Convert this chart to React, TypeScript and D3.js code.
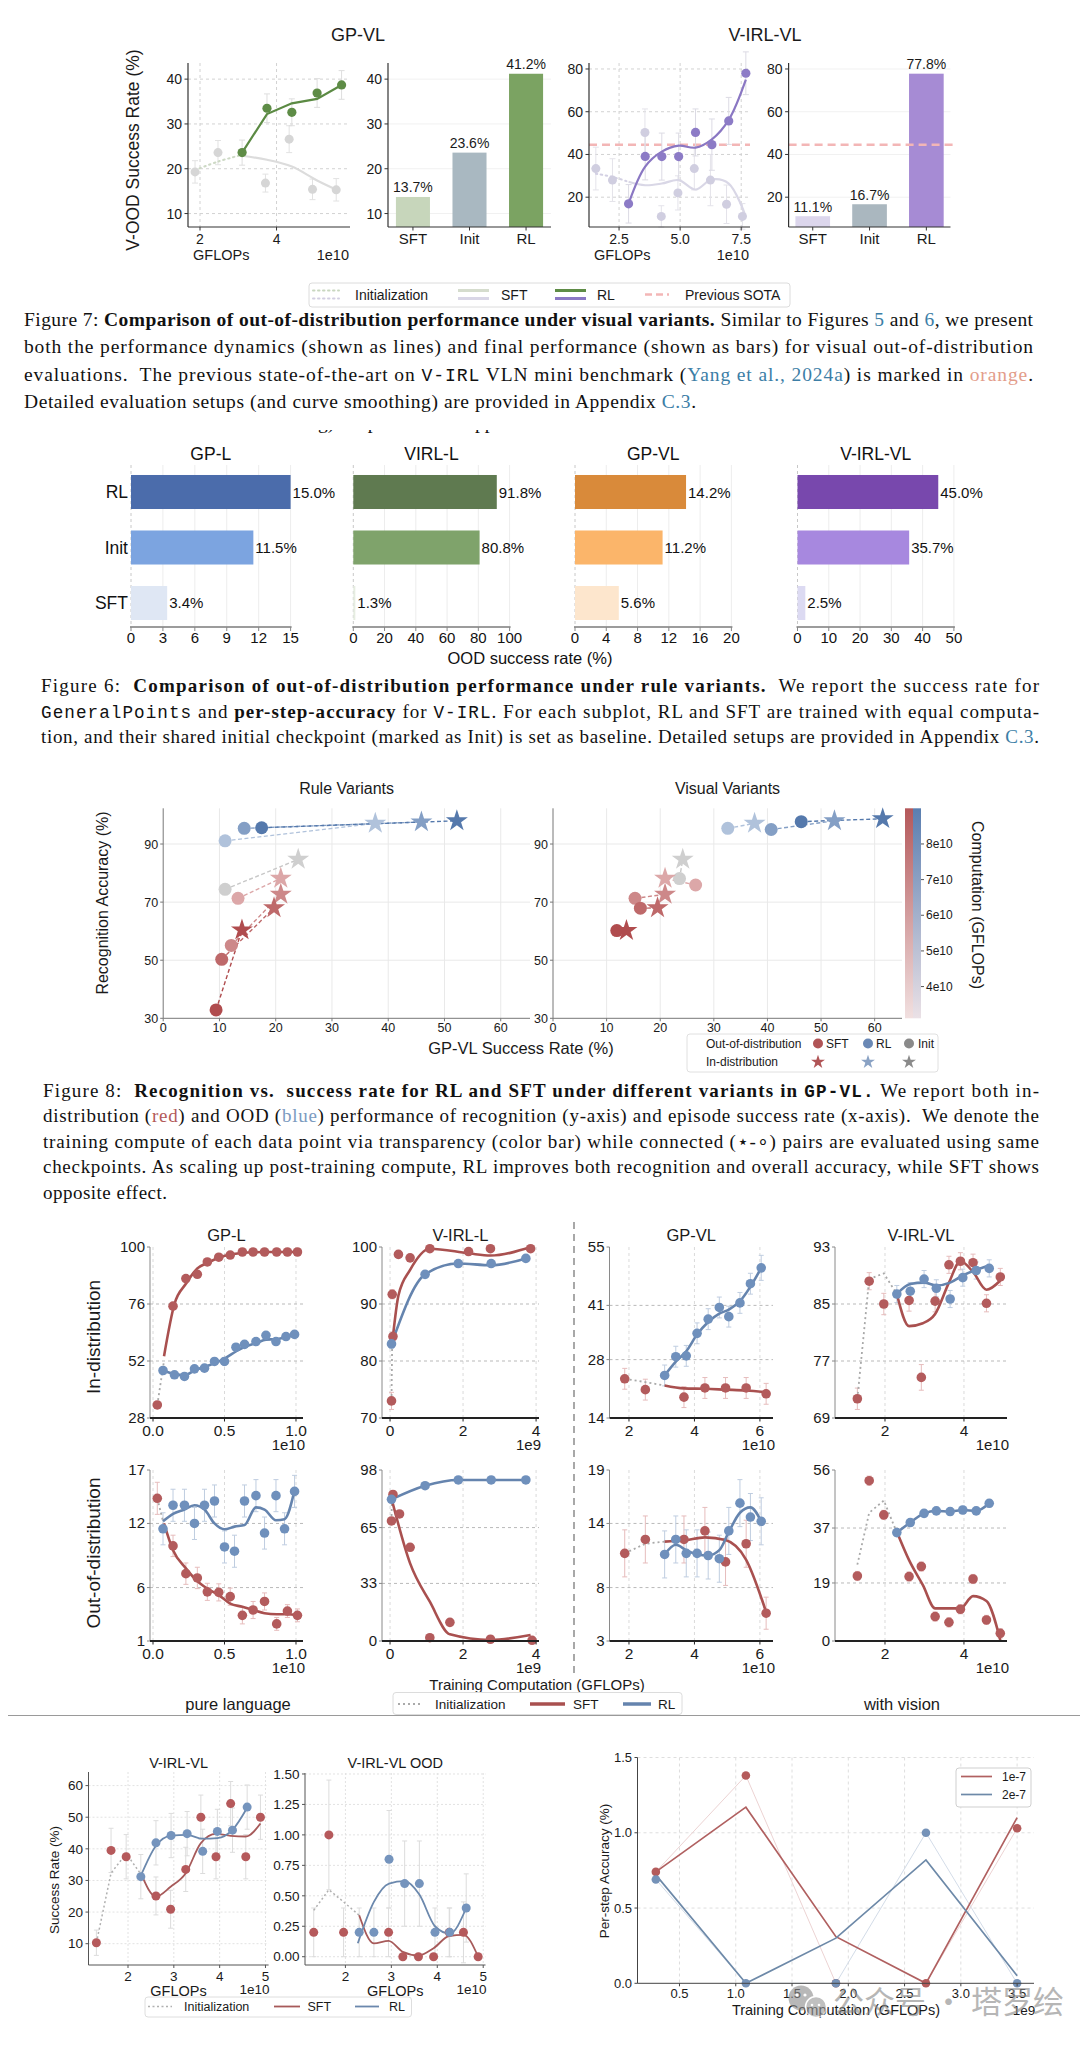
import React from 'react';
import * as d3 from 'd3';

const SANS = "'Liberation Sans', Arial, Helvetica, sans-serif";
const SERIF = "'Liberation Serif', 'Times New Roman', Times, serif";
const MONO = "'Liberation Mono', 'Courier New', monospace";
const CJK = "'Noto Sans CJK SC', 'Noto Sans', sans-serif";

// ---------------- Figure 7: visual OOD (lines + bars) ----------------
const barCats = ['SFT', 'Init', 'RL'];
const gpvlBars = [13.7, 23.6, 41.2];
const virlvlBars = [11.1, 16.7, 77.8];
const prevSota = 44.6;
const f7GpTicksX = [2, 4];
const f7GpTicksY = [10, 20, 30, 40];
const f7VirlTicksX = [2.5, 5.0, 7.5];
const f7VirlTicksY = [20, 40, 60, 80];

// [GFLOPs (1e10), success %, error]
const gpvlRlPts = [[3.1, 23.6, 2.8], [3.75, 33.5, 3.2], [4.4, 32.6, 3.0], [5.06, 36.9, 3.2], [5.7, 38.7, 3.2]];
const gpvlRlLine = [[3.1, 23.6], [3.75, 32.2], [4.4, 34.6], [5.06, 35.6], [5.7, 38.7]];
const gpvlGrayPts = [[1.87, 19.3, 2.5], [2.47, 23.6, 2.7], [3.71, 16.8, 2.0], [4.33, 26.6, 3.0], [4.94, 15.4, 2.3], [5.56, 15.3, 2.5]];
const gpvlSftLine = [[3.1, 22.9], [3.75, 22.0], [4.4, 20.5], [5.06, 17.4], [5.6, 15.2]];
const gpvlInitLine = [[1.87, 19.7], [2.47, 21.6], [3.1, 23.1]];

const virlRlPts = [[2.89, 16.9, 9], [3.57, 39.1, 11], [4.25, 39.0, 11], [4.94, 39.0, 11], [5.63, 50.3, 11], [6.3, 44.6, 12], [6.99, 55.7, 11], [7.69, 78.0, 10]];
const virlRlLine = [[2.89, 17], [3.57, 34.3], [4.25, 41.3], [4.94, 44.1], [5.63, 43.2], [6.3, 47.1], [6.99, 56.2], [7.69, 75]];
const virlGrayPts = [[1.55, 33.4, 10], [2.23, 28, 10], [3.56, 50.3, 11], [4.23, 11, 5], [4.91, 22, 8], [5.58, 33.4, 10], [6.24, 28, 12], [6.9, 16.7, 9], [7.55, 11, 6]];
const virlSftLine = [[2.89, 27.2], [3.57, 25.6], [4.25, 26.4], [4.94, 28], [5.63, 23.6], [6.3, 28.3], [6.99, 26.4], [7.69, 10.8]];
const virlInitLine = [[1.55, 31], [2.23, 29.5], [2.89, 27.2]];

// ---------------- Figure 6: rule OOD bars ----------------
const fig6Titles = ['GP-L', 'VIRL-L', 'GP-VL', 'V-IRL-VL'];
const fig6Cats = ['RL', 'Init', 'SFT'];
const fig6Max = [15, 100, 20, 50];
const fig6Ticks = [[0, 3, 6, 9, 12, 15], [0, 20, 40, 60, 80, 100], [0, 4, 8, 12, 16, 20], [0, 10, 20, 30, 40, 50]];
const fig6GPL = [15.0, 11.5, 3.4];
const fig6VIRLL = [91.8, 80.8, 1.3];
const fig6GPVL = [14.2, 11.2, 5.6];
const fig6VIRLVL = [45.0, 35.7, 2.5];

// ---------------- Figure 8: recognition vs success ----------------
// [GP-VL success %, recognition %, compute (1e10)]
const ruleSftOod = [[13.3, 71.3, 4.6], [12.1, 55.1, 6.0], [10.4, 50.3, 7.4], [9.4, 32.9, 8.7]];
const ruleSftId = [[20.9, 78.2, 4.6], [20.9, 72.7, 6.0], [19.7, 68.0, 7.4], [14.0, 60.4, 8.7]];
const ruleRlOod = [[11.0, 91.1, 4.4], [14.4, 95.4, 6.4], [17.5, 95.6, 8.6]];
const ruleRlId = [[37.7, 97.1, 4.4], [45.9, 97.6, 6.4], [52.2, 98.0, 8.6]];
const ruleInit = [[11.0, 74.4], [24.0, 84.7]];
const visSftOod = [[26.6, 75.9, 4.6], [15.3, 71.3, 6.0], [16.3, 67.9, 7.4], [11.9, 60.2, 8.7]];
const visSftId = [[20.9, 78.2, 4.6], [20.9, 72.7, 6.0], [19.5, 68.0, 7.4], [13.7, 60.2, 8.7]];
const visRlOod = [[32.6, 95.4, 4.4], [40.7, 95.0, 6.4], [46.3, 97.7, 8.6]];
const visRlId = [[37.6, 97.1, 4.4], [52.5, 98.0, 6.4], [61.5, 98.7, 8.6]];
const visInit = [[23.6, 78.1], [24.2, 84.7]];
const f8TicksX = [0, 10, 20, 30, 40, 50, 60];
const f8TicksY = [30, 50, 70, 90];
const cbTicks = [4, 5, 6, 7, 8];

// ---------------- Figure 9: ID / OOD dynamics ----------------
const f9Titles = ['GP-L', 'V-IRL-L', 'GP-VL', 'V-IRL-VL'];
const f9XDom = [[-0.021, 1.049], [-0.22, 4.08], [1.405, 6.4], [0.734, 5.09]];
const f9XTicks = [[0, 0.5, 1.0], [0, 2, 4], [2, 4, 6], [2, 4]];
const f9XExp = ['1e10', '1e9', '1e10', '1e10'];
const f9YTicksId = [[28, 52, 76, 100], [70, 80, 90, 100], [14, 28, 41, 55], [69, 77, 85, 93]];
const f9YTicksOod = [[1, 6, 12, 17], [0, 33, 65, 98], [3, 8, 14, 19], [0, 19, 37, 56]];

const idGplSft = [[0.03, 33.5, 1.5], [0.14, 75.1, 1.2], [0.23, 86.7, 1], [0.31, 88.5, 1.2], [0.38, 93.7, 0.8], [0.46, 95.7, 0.8], [0.54, 96.6, 0.6], [0.625, 97.9, 0.5], [0.70, 97.9, 0.5], [0.78, 97.9, 0.5], [0.865, 97.9, 0.5], [0.94, 97.9, 0.5], [1.01, 97.9, 0.5]];
const idGplSftLine = [[0.077, 54], [0.15, 76], [0.23, 84.5], [0.31, 91], [0.38, 93.3], [0.46, 95.5], [0.54, 96.8], [0.625, 97.5], [0.70, 97.8], [0.78, 97.9], [0.865, 97.9], [0.94, 97.9], [1.01, 98]];
const idGplRl = [[0.07, 48, 1.2], [0.15, 46.2, 1.2], [0.22, 45.5, 1.2], [0.29, 48.7, 1.2], [0.36, 49, 1.2], [0.43, 51.8, 1.3], [0.5, 51.8, 1.5], [0.58, 57.8, 1.3], [0.64, 59, 1.3], [0.72, 60.2, 1.3], [0.79, 62.8, 1.3], [0.86, 60.2, 1.3], [0.93, 62.3, 1.3], [0.99, 63.2, 1.3]];
const idGplRlLine = [[0.07, 48], [0.15, 46.5], [0.22, 46], [0.29, 48], [0.36, 49.5], [0.43, 51], [0.5, 53], [0.58, 56], [0.64, 58], [0.72, 59.5], [0.79, 61], [0.86, 61.2], [0.93, 62], [0.99, 63]];
const idGplInit = [[0.03, 33.5], [0.077, 52]];

const idVirllSft = [[0.04, 73.0, 1.5], [0.06, 91.7, 0.8], [0.08, 84.3, 0.8], [0.23, 98.7, 0.4], [0.55, 98.1, 0.4], [1.09, 99.7, 0.3], [2.15, 99.2, 0.3], [2.75, 99.7, 0.3], [3.85, 99.7, 0.3]];
const idVirllSftLine = [[0.08, 84.3], [0.23, 91.5], [0.55, 96], [1.09, 99.7], [2.15, 98.9], [2.75, 98.5], [3.85, 100]];
const idVirllRl = [[0.04, 83.0, 0.8], [0.96, 95.2, 0.6], [1.87, 97.1, 0.5], [2.77, 97.1, 0.5], [3.72, 98.0, 0.5]];
const idVirllRlLine = [[0.04, 83], [0.96, 95.2], [1.87, 97.1], [2.77, 96.8], [3.72, 98]];
const idVirllInit = [[0.04, 73], [0.06, 84]];

const idGpvlSft = [[1.87, 23.4, 2.5], [2.5, 20.8, 2.5], [3.68, 19.0, 2.5], [4.32, 21.2, 2.5], [4.95, 21.2, 2.5], [5.58, 21.2, 2.5], [6.19, 19.8, 2.5]];
const idGpvlSftLine = [[3.09, 21.8], [3.68, 21.1], [4.32, 21.0], [4.95, 20.8], [5.58, 20.6], [6.19, 20.2]];
const idGpvlRl = [[3.09, 24.2, 2.5], [3.43, 28.7, 2.5], [3.75, 28.9, 2.5], [4.08, 34.3, 2.5], [4.42, 37.7, 2.5], [4.76, 40.5, 2.5], [5.05, 38.3, 2.5], [5.39, 41.6, 2.5], [5.71, 46.2, 2.5], [6.04, 50, 3]];
const idGpvlRlLine = [[3.09, 24.2], [3.43, 27.5], [3.75, 30], [4.08, 34], [4.42, 37], [4.76, 39], [5.05, 40], [5.39, 42], [5.71, 45.5], [6.04, 50]];
const idGpvlInit = [[1.87, 23.4], [2.5, 22.6], [3.09, 21.8]];

const idVirlvlSft = [[1.30, 71.7, 1.5], [1.6, 88.2, 1.2], [1.97, 85.0, 1.5], [2.61, 85.5, 1.5], [2.92, 74.7, 1.8], [3.27, 85.4, 1.5], [3.62, 90.5, 1.2], [3.91, 91.0, 1.2], [4.23, 90.8, 1.2], [4.57, 85.1, 1.2], [4.92, 88.8, 1.2]];
const idVirlvlSftLine = [[2.3, 86.4], [2.61, 81.9], [2.96, 82.3], [3.27, 83.6], [3.62, 88], [3.91, 91], [4.23, 89.5], [4.57, 87], [4.92, 88.3]];
const idVirlvlRl = [[2.3, 86.4, 1.2], [2.64, 86.8, 1.2], [2.99, 88.5, 1.2], [3.3, 87.2, 1.2], [3.65, 85.7, 1.2], [3.97, 88.7, 1.2], [4.31, 89.7, 1.2], [4.64, 90.0, 1.2]];
const idVirlvlRlLine = [[2.3, 86.4], [2.64, 87.8], [2.99, 88], [3.3, 87.6], [3.65, 88], [3.97, 89], [4.31, 89.8], [4.64, 90.4]];
const idVirlvlInit = [[1.30, 71.7], [1.6, 88.5], [1.97, 89.3], [2.3, 86.4]];

const oodGplSft = [[0.03, 14.35, 1.5], [0.14, 9.9, 1], [0.23, 7.3, 1], [0.31, 6.9, 1], [0.38, 5.6, 0.8], [0.46, 5.55, 0.8], [0.54, 5.15, 0.8], [0.625, 3.4, 0.8], [0.70, 3.9, 0.8], [0.78, 4.7, 0.8], [0.865, 2.6, 0.6], [0.94, 3.8, 0.6], [1.01, 3.4, 0.6]];
const oodGplSftLine = [[0.077, 12], [0.14, 9.5], [0.23, 7.8], [0.31, 6.6], [0.38, 5.9], [0.46, 5.3], [0.54, 4.5], [0.625, 4.2], [0.70, 3.9], [0.78, 3.6], [0.865, 3.5], [0.94, 3.5], [1.01, 3.4]];
const oodGplRl = [[0.07, 11.5, 1.5], [0.14, 13.7, 1.5], [0.22, 13.7, 1.5], [0.29, 12.0, 1.5], [0.36, 13.7, 1.5], [0.43, 14.1, 1.5], [0.5, 9.8, 1.5], [0.57, 9.4, 1.5], [0.64, 14.1, 1.5], [0.72, 14.6, 1.5], [0.78, 11.1, 1.5], [0.86, 14.6, 1.5], [0.92, 11.5, 1.5], [0.99, 15.0, 1.5]];
const oodGplRlLine = [[0.07, 12.2], [0.14, 12.9], [0.22, 13.3], [0.29, 13.7], [0.36, 13.3], [0.43, 12.0], [0.5, 11.45], [0.57, 11.7], [0.64, 11.85], [0.72, 13.5], [0.78, 13.3], [0.86, 12.3], [0.92, 12.4], [0.99, 15.1]];
const oodGplInit = [[0.03, 14.35], [0.07, 12.2]];

const oodVirllSft = [[0.04, 68.8, 2], [0.08, 84.0, 2], [0.26, 72.8, 2], [0.55, 53.7, 2], [1.09, 1.9, 1], [1.64, 10.7, 1], [2.75, 1.0, 0.5], [3.89, 0.4, 0.5]];
const oodVirllSftLine = [[0.04, 81.7], [0.55, 44.5], [1.09, 22.5], [1.64, 3.8], [2.75, 0.6], [3.85, 3.4]];
const oodVirllRl = [[0.04, 81.2, 1], [0.96, 89.0, 1], [1.87, 92.3, 0.8], [2.77, 92.3, 0.8], [3.72, 92.3, 0.8]];
const oodVirllRlLine = [[0.04, 81.2], [0.96, 89.0], [1.87, 92.3], [2.77, 92.3], [3.72, 92.3]];
const oodVirllInit = [[0.04, 68.8], [0.05, 81]];

const oodGpvlSft = [[1.87, 11.2, 2.2], [2.5, 12.5, 2.2], [3.68, 12.5, 2.2], [4.32, 13.3, 2.2], [4.95, 10.4, 2.2], [5.58, 12.1, 2.2], [6.19, 5.6, 1.5]];
const oodGpvlSftLine = [[3.09, 12.3], [3.68, 12.4], [4.32, 12.7], [4.95, 12.45], [5.58, 10.6], [6.19, 5.7]];
const oodGpvlRl = [[3.09, 11.1, 2.2], [3.43, 12.5, 2.2], [3.75, 11.2, 2.2], [4.08, 11.2, 2.2], [4.42, 11.0, 2.2], [4.76, 10.7, 2.2], [5.05, 13.3, 2.2], [5.39, 15.9, 2.2], [5.71, 14.6, 2.2], [6.04, 14.2, 2.2]];
const oodGpvlRlLine = [[3.09, 11.1], [3.43, 12.0], [3.75, 11.5], [4.08, 11.1], [4.42, 11.0], [4.76, 11.5], [5.05, 13.2], [5.39, 15.0], [5.71, 15.5], [6.04, 14.2]];
const oodGpvlInit = [[1.87, 11.2], [2.5, 12.1], [3.09, 12.3]];

const oodVirlvlSft = [[1.30, 21.3, 1.5], [1.6, 52.5, 1.5], [1.97, 41.3, 1.5], [2.61, 21.1, 1.5], [2.92, 24.4, 1.5], [3.27, 8.0, 1.5], [3.62, 6.1, 1.5], [3.91, 10.4, 1.5], [4.23, 20.3, 1.5], [4.57, 6.9, 1.5], [4.92, 2.5, 1.5]];
const oodVirlvlSftLine = [[2.3, 35.8], [2.61, 26.5], [2.96, 18.3], [3.27, 10.7], [3.62, 10.7], [3.91, 10.7], [4.23, 14.7], [4.57, 13.1], [4.92, 0.3]];
const oodVirlvlRl = [[2.3, 35.5, 1.2], [2.64, 38.8, 1.2], [2.99, 41.8, 1.2], [3.3, 42.6, 1.2], [3.65, 42.4, 1.2], [3.97, 42.9, 1.2], [4.31, 42.6, 1.2], [4.64, 45.1, 1.2]];
const oodVirlvlRlLine = [[2.3, 35.5], [2.64, 38.8], [2.99, 41.8], [3.3, 42.6], [3.65, 42.4], [3.97, 42.9], [4.31, 42.6], [4.64, 45.1]];
const oodVirlvlInit = [[1.30, 25], [1.6, 42], [1.97, 46], [2.3, 35.5]];

// ---------------- bottom row ----------------
const vlSft = [[1.31, 10.3, 4], [1.63, 39.5, 7], [1.96, 37.5, 7], [2.61, 25.1, 6], [2.93, 20.9, 6], [3.26, 33.5, 7], [3.59, 50, 7], [3.92, 37.5, 7], [4.24, 54.3, 7], [4.57, 37.5, 7], [4.89, 50, 7]];
const vlSftLine = [[2.28, 32.3], [2.61, 24.9], [2.93, 28], [3.26, 32.3], [3.59, 41.8], [3.92, 44.7], [4.24, 44.1], [4.57, 43.9], [4.89, 48]];
const vlRl = [[2.28, 31.2, 7], [2.61, 41.9, 7], [2.94, 44.2, 7], [3.29, 44.8, 7], [3.63, 39.2, 7], [3.95, 45.5, 7], [4.28, 45.9, 7], [4.6, 53.2, 7]];
const vlRlLine = [[2.28, 31.5], [2.61, 41], [2.94, 44.2], [3.29, 44.4], [3.63, 43.2], [3.95, 43.4], [4.28, 46], [4.6, 53]];
const vlInit = [[1.31, 10.3], [1.63, 32.3], [1.96, 38.5], [2.28, 32]];

const vlOodSft = [[1.31, 0.2, 0.2], [1.64, 1.0, 0.45], [1.96, 0.2, 0.2], [2.94, 0.2, 0.2], [3.25, 0, 0], [3.59, 0, 0], [3.92, 0, 0], [4.26, 0.2, 0.2], [4.57, 0.2, 0.25], [4.89, 0, 0]];
const vlOodSftLine = [[2.3, 0.34], [2.62, 0.11], [2.94, 0.13], [3.25, 0.04], [3.59, 0.01], [3.92, 0.07], [4.26, 0.17], [4.57, 0.18], [4.89, 0.0]];
const vlOodRl = [[2.3, 0.2, 0.2], [2.62, 0.2, 0.2], [2.95, 0.8, 0.4], [3.29, 0.6, 0.35], [3.61, 0.6, 0.35], [3.95, 0.2, 0.2], [4.27, 0.2, 0.2], [4.63, 0.4, 0.28]];
const vlOodRlLine = [[2.27, 0.11], [2.62, 0.45], [2.95, 0.6], [3.29, 0.62], [3.61, 0.51], [3.95, 0.25], [4.27, 0.19], [4.63, 0.4]];
const vlOodInit = [[1.31, 0.38], [1.64, 0.55], [1.96, 0.45], [2.3, 0.34]];

// per-step accuracy, GFLOPs in 1e9
const lr1Pts = [[0.29, 0.74], [1.09, 1.38], [1.89, 0.0], [2.69, 0.0], [3.5, 1.03]];
const lr1Line = [[0.29, 0.74], [1.09, 1.17], [1.89, 0.31], [2.69, 0.0], [3.5, 1.1]];
const lr2Pts = [[0.29, 0.69], [1.09, 0.0], [1.89, 0.0], [2.69, 1.0], [3.5, 0.0]];
const lr2Line = [[0.29, 0.72], [1.09, 0.0], [1.89, 0.3], [2.69, 0.82], [3.5, 0.05]];

// ---------------- captions ----------------
const cap7 = [
  [['Figure 7: ', 'n'], ['Comparison of out-of-distribution performance under visual variants.', 'b'], [' Similar to Figures ', 'n'], ['5', 'l'], [' and ', 'n'], ['6', 'l'], [', we present', 'n']],
  [['both the performance dynamics (shown as lines) and final performance (shown as bars) for visual out-of-distribution', 'n']],
  [['evaluations.  The previous state-of-the-art on ', 'n'], ['V-IRL', 'm'], [' VLN mini benchmark (', 'n'], ['Yang et al., 2024a', 'l'], [') is marked in ', 'n'], ['orange', 'o'], ['.', 'n']],
  [['Detailed evaluation setups (and curve smoothing) are provided in Appendix ', 'n'], ['C.3', 'l'], ['.', 'n']],
];
const cap6 = [
  [['Figure 6:  ', 'n'], ['Comparison of out-of-distribution performance under rule variants.', 'b'], ['  We report the success rate for', 'n']],
  [['GeneralPoints', 'm'], [' and ', 'n'], ['per-step-accuracy', 'b'], [' for ', 'n'], ['V-IRL', 'm'], ['. For each subplot, RL and SFT are trained with equal computa-', 'n']],
  [['tion, and their shared initial checkpoint (marked as Init) is set as baseline. Detailed setups are provided in Appendix ', 'n'], ['C.3', 'l'], ['.', 'n']],
];
const cap8 = [
  [['Figure 8:  ', 'n'], ['Recognition vs.  success rate for RL and SFT under different variants in ', 'b'], ['GP-VL.', 'bm'], [' We report both in-', 'n']],
  [['distribution (', 'n'], ['red', 'r'], [') and OOD (', 'n'], ['blue', 'u'], [') performance of recognition (y-axis) and episode success rate (x-axis).  We denote the', 'n']],
  [['training compute of each data point via transparency (color bar) while connected (\u22c6-\u2218) pairs are evaluated using same', 'n']],
  [['checkpoints. As scaling up post-training compute, RL improves both recognition and overall accuracy, while SFT shows', 'n']],
  [['opposite effect.', 'n']],
];
const cutLine = 'Detailed evaluation setups (and curve smoothing) are provided in Appendix C.3.';

// ---------------- helpers ----------------
const lin = (d: number[], r: number[]) => d3.scaleLinear().domain(d).range(r);
const pathOf = (pts: number[][], x: any, y: any, curve: any = d3.curveLinear) =>
  d3.line<number[]>().x(p => x(p[0])).y(p => y(p[1])).curve(curve)(pts) || '';

function errBars(pts: number[][], x: any, y: any, color: string, cap = 3) {
  return pts.filter(p => p[2] > 0).map((p, i) => {
    const cx = x(p[0]);
    const a = y(p[1] - p[2]);
    const b = y(p[1] + p[2]);
    return (
      <g key={'e' + i} stroke={color} strokeWidth={1}>
        <line x1={cx} x2={cx} y1={a} y2={b} />
        <line x1={cx - cap} x2={cx + cap} y1={a} y2={a} />
        <line x1={cx - cap} x2={cx + cap} y1={b} y2={b} />
      </g>
    );
  });
}
function dots(pts: number[][], x: any, y: any, r: number, fill: string) {
  return pts.map((p, i) => <circle key={'d' + i} cx={x(p[0])} cy={y(p[1])} r={r} fill={fill} />);
}

function Caption({ lines, x, y0, dy, fs, widths }: any) {
  const st = (s: string) => {
    if (s === 'b') return { fontWeight: 'bold' };
    if (s === 'm') return { fontFamily: MONO, fontSize: fs * 0.93 };
    if (s === 'bm') return { fontFamily: MONO, fontSize: fs * 0.93, fontWeight: 'bold' };
    if (s === 'l') return { fill: '#3c7ea6' };
    if (s === 'o') return { fill: '#e39d8b' };
    if (s === 'r') return { fill: '#b35a5a' };
    if (s === 'u') return { fill: '#7c9bbf' };
    return {};
  };
  return (
    <g fontFamily={SERIF} fontSize={fs} fill="#111">
      {lines.map((segs: any[], i: number) => (
        <text key={i} x={x} y={y0 + i * dy} textLength={widths[i]} lengthAdjust="spacing" style={{ whiteSpace: 'pre' }}>
          {segs.map(([t, s]: any, j: number) => (
            <tspan key={j} {...(st(s) as any)}>{t}</tspan>
          ))}
        </text>
      ))}
    </g>
  );
}

// ---------------- Figure 7 ----------------
function Fig7() {
  const top = 63, bot = 227;
  const xA = lin([1.686, 5.92], [188, 350]);
  const yA = lin([7.0, 43.6], [bot, top]);
  const xB = d3.scaleBand<string>().domain(barCats).range([388, 551]).paddingInner(0.398).paddingOuter(0.14);
  const xC = lin([1.27, 7.86], [589, 750]);
  const yC = lin([6.05, 82.8], [bot, top]);
  const xD = d3.scaleBand<string>().domain(barCats).range([788.6, 950.5]).paddingInner(0.39).paddingOuter(0.12);

  const yAxis = (x0: number, y: any, ticks: number[]) => (
    <g>
      {ticks.map(t => (
        <g key={t}>
          <line x1={x0 - 3.5} x2={x0} y1={y(t)} y2={y(t)} stroke="#333" />
          <text x={x0 - 6} y={y(t) + 5} textAnchor="end">{t}</text>
        </g>
      ))}
      <line x1={x0} x2={x0} y1={top} y2={bot} stroke="#333" strokeWidth={1.2} />
    </g>
  );
  const lineGrid = (x: any, y: any, xt: number[], yt: number[], x0: number, x1: number) => (
    <g stroke="#d2d2d2" strokeDasharray="3,3" strokeWidth={1}>
      {xt.map(t => <line key={'x' + t} x1={x(t)} x2={x(t)} y1={top} y2={bot} />)}
      {yt.map(t => <line key={'y' + t} x1={x0} x2={x1} y1={y(t)} y2={y(t)} />)}
    </g>
  );
  const xAxis = (x: any, ticks: number[], fmt: (n: number) => string, x0: number, x1: number) => (
    <g>
      <line x1={x0} x2={x1} y1={bot} y2={bot} stroke="#333" strokeWidth={1.2} />
      {ticks.map(t => (
        <g key={t}>
          <line x1={x(t)} x2={x(t)} y1={bot} y2={bot + 3.5} stroke="#333" />
          <text x={x(t)} y={244} textAnchor="middle">{fmt(t)}</text>
        </g>
      ))}
      <text x={x0 + 5} y={260} fontSize={14.5}>GFLOPs</text>
      <text x={x1 - 1} y={260} textAnchor="end" fontSize={14.5}>1e10</text>
    </g>
  );
  const bars = (xb: any, y: any, vals: number[], colors: string[], x0: number, x1: number, yt: number[]) => (
    <g>
      {yt.map(t => <line key={'g' + t} x1={x0} x2={x1} y1={y(t)} y2={y(t)} stroke="#f1f1f1" />)}
      {vals.map((v, i) => {
        const cx = xb(barCats[i]) + xb.bandwidth() / 2;
        return (
          <g key={i}>
            <rect x={xb(barCats[i])} y={y(v)} width={xb.bandwidth()} height={bot - y(v)} fill={colors[i]} />
            <text x={cx} y={y(v) - 4.5} textAnchor="middle">{v.toFixed(1)}%</text>
            <line x1={cx} x2={cx} y1={bot} y2={bot + 3.5} stroke="#333" />
            <text x={cx} y={244} textAnchor="middle" fontSize={15}>{barCats[i]}</text>
          </g>
        );
      })}
      <line x1={x0} x2={x1} y1={bot} y2={bot} stroke="#333" strokeWidth={1.2} />
    </g>
  );

  return (
    <g fontFamily={SANS} fontSize={14} fill="#1a1a1a">
      <text x={358} y={41} textAnchor="middle" fontSize={18}>GP-VL</text>
      <text x={765} y={41} textAnchor="middle" fontSize={18}>V-IRL-VL</text>
      <text transform="translate(139,150) rotate(-90)" textAnchor="middle" fontSize={17.5}>V-OOD Success Rate (%)</text>

      {/* GP-VL dynamics */}
      {lineGrid(xA, yA, f7GpTicksX, f7GpTicksY, 188, 350)}
      {errBars(gpvlGrayPts, xA, yA, '#e2e2e2')}
      {errBars(gpvlRlPts, xA, yA, '#dedede')}
      <path d={pathOf(gpvlInitLine, xA, yA, d3.curveCatmullRom)} fill="none" stroke="#cdd9c5" strokeWidth={2} strokeDasharray="1.5,3.5" strokeLinecap="round" />
      <path d={pathOf(gpvlSftLine, xA, yA, d3.curveCatmullRom)} fill="none" stroke="#dcdcdc" strokeWidth={2.2} />
      {dots(gpvlGrayPts, xA, yA, 4.5, '#d6d6d6')}
      <path d={pathOf(gpvlRlLine, xA, yA)} fill="none" stroke="#5b8a43" strokeWidth={2.2} />
      {dots(gpvlRlPts, xA, yA, 4.6, '#5e8c46')}
      {yAxis(188, yA, f7GpTicksY)}
      {xAxis(xA, f7GpTicksX, d3.format('d'), 188, 350)}

      {/* GP-VL bars */}
      {bars(xB, yA, gpvlBars, ['#c7d6bb', '#a9b8c1', '#7ba362'], 388, 551, f7GpTicksY)}
      {yAxis(388, yA, f7GpTicksY)}

      {/* V-IRL-VL dynamics */}
      {lineGrid(xC, yC, f7VirlTicksX, f7VirlTicksY, 589, 750)}
      <line x1={589} x2={750} y1={yC(prevSota)} y2={yC(prevSota)} stroke="#f3b6b6" strokeWidth={2.5} strokeDasharray="8,5" />
      {errBars(virlGrayPts, xC, yC, '#e4e3ea')}
      {errBars(virlRlPts, xC, yC, '#dcdbe4')}
      <path d={pathOf(virlInitLine, xC, yC, d3.curveCatmullRom)} fill="none" stroke="#d3d0e3" strokeWidth={2} strokeDasharray="1.5,3.5" strokeLinecap="round" />
      <path d={pathOf(virlSftLine, xC, yC, d3.curveCatmullRom)} fill="none" stroke="#d9d7e6" strokeWidth={2.2} />
      {dots(virlGrayPts, xC, yC, 4.5, '#d0cee0')}
      <path d={pathOf(virlRlLine, xC, yC, d3.curveCatmullRom)} fill="none" stroke="#8a77c3" strokeWidth={2.2} />
      {dots(virlRlPts, xC, yC, 4.6, '#8c7bc6')}
      {yAxis(589, yC, f7VirlTicksY)}
      {xAxis(xC, f7VirlTicksX, d3.format('.1f'), 589, 750)}

      {/* V-IRL-VL bars */}
      {bars(xD, yC, virlvlBars, ['#dcd6ec', '#aab7bf', '#a68bd4'], 788.6, 950.5, f7VirlTicksY)}
      <line x1={788.6} x2={955} y1={yC(prevSota)} y2={yC(prevSota)} stroke="#f3b6b6" strokeWidth={2.5} strokeDasharray="8,5" />
      {yAxis(788.6, yC, f7VirlTicksY)}

      {/* legend */}
      <rect x={309} y={283} width={481} height={24} rx={3} fill="#fff" stroke="#dcdcdc" />
      <line x1={313} x2={339} y1={290.5} y2={290.5} stroke="#c9d7c0" strokeWidth={2} strokeDasharray="1.5,3.5" strokeLinecap="round" />
      <line x1={313} x2={339} y1={298.5} y2={298.5} stroke="#d3cfe2" strokeWidth={2} strokeDasharray="1.5,3.5" strokeLinecap="round" />
      <text x={355} y={300}>Initialization</text>
      <line x1={458} x2={489} y1={290.5} y2={290.5} stroke="#d5dccd" strokeWidth={3} />
      <line x1={458} x2={489} y1={298.5} y2={298.5} stroke="#d9d6e6" strokeWidth={3} />
      <text x={501} y={300}>SFT</text>
      <line x1={555} x2={586} y1={290.5} y2={290.5} stroke="#5e8c46" strokeWidth={3} />
      <line x1={555} x2={586} y1={298.5} y2={298.5} stroke="#8b78c4" strokeWidth={3} />
      <text x={597} y={300}>RL</text>
      <line x1={645} x2={669} y1={294.5} y2={294.5} stroke="#f3b6b6" strokeWidth={2.5} strokeDasharray="7,4" />
      <text x={685} y={300}>Previous SOTA</text>
    </g>
  );
}

// ---------------- Figure 6 ----------------
function Fig6() {
  const lefts = [131, 353.3, 575, 797.5];
  const widths = [159.6, 156.3, 156.4, 156.4];
  const vals = [fig6GPL, fig6VIRLL, fig6GPVL, fig6VIRLVL];
  const colors = [
    ['#4b6cab', '#7ca4e0', '#dfe7f4'],
    ['#5f7a50', '#7fa36b', '#e6ede1'],
    ['#d98a3a', '#fbb56a', '#fde6cd'],
    ['#7848ad', '#a788df', '#dcdaf2'],
  ];
  const yb = d3.scaleBand<string>().domain(fig6Cats).range([465, 630]).paddingInner(0.387).paddingOuter(0.18);
  return (
    <g fontFamily={SANS} fill="#111">
      <defs>
        <clipPath id="cutClip"><rect x={185} y={430} width={380} height={7} /></clipPath>
      </defs>
      <text x={-53} y={428.5} fontFamily={SERIF} fontSize={19.5} clipPath="url(#cutClip)">{cutLine}</text>
      {fig6Titles.map((t, i) => {
        const x = lin([0, fig6Max[i]], [lefts[i], lefts[i] + widths[i]]);
        return (
          <g key={t}>
            <text x={lefts[i] + widths[i] / 2} y={460} textAnchor="middle" fontSize={17.5}>{t}</text>
            {fig6Ticks[i].slice(1).map(v => <line key={'g' + v} x1={x(v)} x2={x(v)} y1={465} y2={627} stroke="#ededed" />)}
            <line x1={x(0)} x2={x(0)} y1={465} y2={627} stroke="#c8c8c8" strokeDasharray="3,3" />
            {vals[i].map((v, j) => (
              <g key={j}>
                <rect x={x(0)} y={yb(fig6Cats[j])} width={x(v) - x(0)} height={yb.bandwidth()} fill={colors[i][j]} />
                <text x={x(v) + 2} y={(yb(fig6Cats[j]) as number) + yb.bandwidth() / 2 + 5.5} fontSize={15}>{v.toFixed(1)}%</text>
              </g>
            ))}
            <line x1={x(0) - 1} x2={x(fig6Max[i]) + 1} y1={627} y2={627} stroke="#9c9c9c" strokeWidth={2} />
            {fig6Ticks[i].map(v => (
              <g key={'t' + v}>
                <line x1={x(v)} x2={x(v)} y1={627} y2={631} stroke="#888" />
                <text x={x(v)} y={643} textAnchor="middle" fontSize={15}>{v}</text>
              </g>
            ))}
          </g>
        );
      })}
      {fig6Cats.map(c => (
        <text key={c} x={128} y={(yb(c) as number) + yb.bandwidth() / 2 + 6} textAnchor="end" fontSize={17.5}>{c}</text>
      ))}
      <text x={530} y={664} textAnchor="middle" fontSize={16.5}>OOD success rate (%)</text>
    </g>
  );
}

// ---------------- Figure 8 ----------------
function Fig8() {
  const top = 808.3, bot = 1018.3;
  const y = lin([30, 102.3], [bot, top]);
  const red = (c: number) => d3.interpolateRgb('#ecc9c9', '#ad4547')((c - 3.1) / 5.9);
  const blue = (c: number) => d3.interpolateRgb('#ccd8ea', '#4c72a8')((c - 3.1) / 5.9);
  const star = d3.symbol().type(d3.symbolStar).size(150)() || '';
  const starS = d3.symbol().type(d3.symbolStar).size(60)() || '';
  const panels = [
    { title: 'Rule Variants', l: 163.2, r: 530, x: lin([0, 65.2], [163.2, 530]), so: ruleSftOod, si: ruleSftId, ro: ruleRlOod, ri: ruleRlId, init: ruleInit },
    { title: 'Visual Variants', l: 553, r: 902, x: lin([0, 65.1], [553, 902]), so: visSftOod, si: visSftId, ro: visRlOod, ri: visRlId, init: visInit },
  ];
  const cb = lin([3.11, 9.0], [bot, top]);
  return (
    <g fontFamily={SANS} fill="#1a1a1a">
      <defs>
        <linearGradient id="cbR" x1="0" y1="0" x2="0" y2="1">
          <stop offset="0" stopColor="#b4585a" />
          <stop offset="1" stopColor="#f1e0e0" />
        </linearGradient>
        <linearGradient id="cbB" x1="0" y1="0" x2="0" y2="1">
          <stop offset="0" stopColor="#5a7eb0" />
          <stop offset="1" stopColor="#ebe1e6" />
        </linearGradient>
      </defs>
      {panels.map(p => (
        <g key={p.title}>
          <text x={(p.l + p.r) / 2} y={794} textAnchor="middle" fontSize={16}>{p.title}</text>
          <g stroke="#e9e9e9" strokeWidth={1}>
            {f8TicksX.slice(1).map(t => <line key={'x' + t} x1={p.x(t)} x2={p.x(t)} y1={top} y2={bot} />)}
            {f8TicksY.slice(1).map(t => <line key={'y' + t} x1={p.l} x2={p.r} y1={y(t)} y2={y(t)} />)}
          </g>
          <line x1={p.l} x2={p.l} y1={top} y2={bot} stroke="#777" />
          <line x1={p.l} x2={p.r} y1={bot} y2={bot} stroke="#777" />
          {f8TicksY.map(t => (
            <g key={'ty' + t}>
              <line x1={p.l - 3} x2={p.l} y1={y(t)} y2={y(t)} stroke="#777" />
              <text x={p.l - 5} y={y(t) + 4.5} textAnchor="end" fontSize={12.5}>{t}</text>
            </g>
          ))}
          {f8TicksX.map(t => (
            <g key={'tx' + t}>
              <line x1={p.x(t)} x2={p.x(t)} y1={bot} y2={bot + 3} stroke="#777" />
              <text x={p.x(t)} y={1031.5} textAnchor="middle" fontSize={12.5}>{t}</text>
            </g>
          ))}
          {p.so.map((d, i) => (
            <line key={'ps' + i} x1={p.x(d[0])} y1={y(d[1])} x2={p.x(p.si[i][0])} y2={y(p.si[i][1])} stroke={red(d[2])} strokeWidth={1.4} strokeDasharray="4,2.5" />
          ))}
          {p.ro.map((d, i) => (
            <line key={'pr' + i} x1={p.x(d[0])} y1={y(d[1])} x2={p.x(p.ri[i][0])} y2={y(p.ri[i][1])} stroke={blue(d[2])} strokeWidth={1.4} strokeDasharray="4,2.5" />
          ))}
          <line x1={p.x(p.init[0][0])} y1={y(p.init[0][1])} x2={p.x(p.init[1][0])} y2={y(p.init[1][1])} stroke="#c8c8c8" strokeWidth={1.4} strokeDasharray="4,2.5" />
          <circle cx={p.x(p.init[0][0])} cy={y(p.init[0][1])} r={6.5} fill="#cfcfcf" />
          <path d={star} transform={`translate(${p.x(p.init[1][0])},${y(p.init[1][1])})`} fill="#cfcfcf" />
          {p.so.map((d, i) => <circle key={'cs' + i} cx={p.x(d[0])} cy={y(d[1])} r={6.5} fill={red(d[2])} />)}
          {p.si.map((d, i) => <path key={'ss' + i} d={star} transform={`translate(${p.x(d[0])},${y(d[1])})`} fill={red(d[2])} />)}
          {p.ro.map((d, i) => <circle key={'cr' + i} cx={p.x(d[0])} cy={y(d[1])} r={6.5} fill={blue(d[2])} />)}
          {p.ri.map((d, i) => <path key={'sr' + i} d={star} transform={`translate(${p.x(d[0])},${y(d[1])})`} fill={blue(d[2])} />)}
        </g>
      ))}
      <text transform="translate(108,903) rotate(-90)" textAnchor="middle" fontSize={16}>Recognition Accuracy (%)</text>
      <text x={521} y={1054} textAnchor="middle" fontSize={16.5}>GP-VL Success Rate (%)</text>

      <rect x={905} y={top} width={8} height={bot - top} fill="url(#cbR)" />
      <rect x={913} y={top} width={8} height={bot - top} fill="url(#cbB)" />
      {cbTicks.map(t => (
        <g key={t}>
          <line x1={921} x2={924} y1={cb(t)} y2={cb(t)} stroke="#555" />
          <text x={926} y={cb(t) + 4.2} fontSize={12}>{t}e10</text>
        </g>
      ))}
      <text transform="translate(972,905) rotate(90)" textAnchor="middle" fontSize={16}>Computation (GFLOPs)</text>

      <rect x={687} y={1034} width={251} height={38} rx={3} fill="#fff" stroke="#e0e0e0" />
      <text x={706} y={1047.5} fontSize={12}>Out-of-distribution</text>
      <text x={706} y={1066} fontSize={12}>In-distribution</text>
      <circle cx={818} cy={1043.5} r={5} fill="#b05456" />
      <text x={826} y={1047.5} fontSize={12}>SFT</text>
      <circle cx={868} cy={1043.5} r={5} fill="#6a88b5" />
      <text x={876} y={1047.5} fontSize={12}>RL</text>
      <circle cx={909} cy={1043.5} r={5} fill="#8a8a8a" />
      <text x={918} y={1047.5} fontSize={12}>Init</text>
      <path d={starS} transform="translate(818,1062)" fill="#b05456" />
      <path d={starS} transform="translate(868,1062)" fill="#8aa2c4" />
      <path d={starS} transform="translate(909,1062)" fill="#8a8a8a" />
    </g>
  );
}

// ---------------- Figure 9 ----------------
function Fig9() {
  const lefts = [150, 382, 609.5, 835];
  const rights = [303, 539, 773, 1007];
  const tops = [1247, 1470];
  const bots = [1418, 1641];
  const tickY = [1435.5, 1659];
  const expY = [1449.5, 1673];
  const rows = [
    [
      { s: idGplSft, sl: idGplSftLine, r: idGplRl, rl: idGplRlLine, i: idGplInit },
      { s: idVirllSft, sl: idVirllSftLine, r: idVirllRl, rl: idVirllRlLine, i: idVirllInit },
      { s: idGpvlSft, sl: idGpvlSftLine, r: idGpvlRl, rl: idGpvlRlLine, i: idGpvlInit },
      { s: idVirlvlSft, sl: idVirlvlSftLine, r: idVirlvlRl, rl: idVirlvlRlLine, i: idVirlvlInit },
    ],
    [
      { s: oodGplSft, sl: oodGplSftLine, r: oodGplRl, rl: oodGplRlLine, i: oodGplInit },
      { s: oodVirllSft, sl: oodVirllSftLine, r: oodVirllRl, rl: oodVirllRlLine, i: oodVirllInit },
      { s: oodGpvlSft, sl: oodGpvlSftLine, r: oodGpvlRl, rl: oodGpvlRlLine, i: oodGpvlInit },
      { s: oodVirlvlSft, sl: oodVirlvlSftLine, r: oodVirlvlRl, rl: oodVirlvlRlLine, i: oodVirlvlInit },
    ],
  ];
  const yTicks = [f9YTicksId, f9YTicksOod];
  const fmtX = [d3.format('.1f'), d3.format('d'), d3.format('d'), d3.format('d')];
  return (
    <g fontFamily={SANS} fill="#1a1a1a">
      {f9Titles.map((t, c) => (
        <text key={t} x={(lefts[c] + rights[c]) / 2} y={1241} textAnchor="middle" fontSize={16.5}>{t}</text>
      ))}
      {rows.map((row, ri) =>
        row.map((p, c) => {
          const yt = yTicks[ri][c];
          const x = lin(f9XDom[c], [lefts[c], rights[c]]);
          const y = lin([yt[0], yt[3]], [bots[ri], tops[ri]]);
          return (
            <g key={ri + '-' + c}>
              <g stroke="#dadada" strokeDasharray="3,3">
                {f9XTicks[c].map(t => <line key={'vx' + t} x1={x(t)} x2={x(t)} y1={tops[ri]} y2={bots[ri]} />)}
              </g>
              <g stroke="#b9b9b9" strokeDasharray="3,3">
                {yt.slice(1, 3).map(t => <line key={'hy' + t} x1={lefts[c]} x2={rights[c]} y1={y(t)} y2={y(t)} />)}
              </g>
              {errBars(p.s, x, y, '#e6bcbc', 2.5)}
              {errBars(p.r, x, y, '#bfcde0', 2.5)}
              <path d={pathOf(p.i, x, y)} fill="none" stroke="#a9a9a9" strokeWidth={1.8} strokeDasharray="2,3" />
              <path d={pathOf(p.sl, x, y, d3.curveMonotoneX)} fill="none" stroke="#a9504f" strokeWidth={2.6} />
              <path d={pathOf(p.rl, x, y, d3.curveMonotoneX)} fill="none" stroke="#6584ae" strokeWidth={2.6} />
              {dots(p.s, x, y, 4.8, '#b35b5c')}
              {dots(p.r, x, y, 4.8, '#6f90bc')}
              <line x1={lefts[c]} x2={lefts[c]} y1={tops[ri]} y2={bots[ri]} stroke="#8a8a8a" />
              <line x1={lefts[c]} x2={rights[c]} y1={bots[ri]} y2={bots[ri]} stroke="#222" strokeWidth={2} />
              {yt.map(t => (
                <g key={'ty' + t}>
                  <line x1={lefts[c] - 3} x2={lefts[c]} y1={y(t)} y2={y(t)} stroke="#888" />
                  <text x={lefts[c] - 5} y={y(t) + 5} textAnchor="end" fontSize={15}>{t}</text>
                </g>
              ))}
              {f9XTicks[c].map(t => (
                <g key={'tx' + t}>
                  <line x1={x(t)} x2={x(t)} y1={bots[ri]} y2={bots[ri] + 3.5} stroke="#222" />
                  <text x={x(t)} y={tickY[ri]} textAnchor="middle" fontSize={15.5}>{fmtX[c](t)}</text>
                </g>
              ))}
              <text x={rights[c] + 2} y={expY[ri]} textAnchor="end" fontSize={15}>{f9XExp[c]}</text>
            </g>
          );
        })
      )}
      <line x1={574} x2={574} y1={1222} y2={1675} stroke="#8c8c8c" strokeWidth={1.5} strokeDasharray="7,5" />
      <text transform="translate(100,1337) rotate(-90)" textAnchor="middle" fontSize={19}>In-distribution</text>
      <text transform="translate(100,1553) rotate(-90)" textAnchor="middle" fontSize={19}>Out-of-distribution</text>
      <text x={537} y={1690} textAnchor="middle" fontSize={15}>Training Computation (GFLOPs)</text>
      <text x={238} y={1710} textAnchor="middle" fontSize={16.5}>pure language</text>
      <text x={902} y={1710} textAnchor="middle" fontSize={16.5}>with vision</text>
      <rect x={393} y={1692.5} width={289} height={22} rx={3} fill="#fff" stroke="#dcdcdc" />
      <line x1={398} x2={421} y1={1704} y2={1704} stroke="#aaa" strokeWidth={2} strokeDasharray="2,3" />
      <text x={435} y={1709} fontSize={13.5}>Initialization</text>
      <line x1={530} x2={565} y1={1704} y2={1704} stroke="#a9504f" strokeWidth={3.5} />
      <text x={573} y={1709} fontSize={13.5}>SFT</text>
      <line x1={623} x2={651} y1={1704} y2={1704} stroke="#6584ae" strokeWidth={3.5} />
      <text x={658} y={1709} fontSize={13.5}>RL</text>
      <line x1={8} x2={1080} y1={1715.5} y2={1715.5} stroke="#9a9a9a" strokeWidth={1.2} />
    </g>
  );
}

// ---------------- bottom row ----------------
function Bottom() {
  const xA = lin([1.138, 5.068], [88.5, 268.6]);
  const yA = lin([3.26, 64.3], [1965, 1772]);
  const xB = lin([1.12, 5.05], [305, 485.5]);
  const yB = lin([-0.068, 1.508], [1965, 1773]);
  const xC = lin([0.127, 3.65], [637.5, 1034]);
  const yC = lin([0, 1.5], [1983.3, 1757.5]);
  const ticksA = [10, 20, 30, 40, 50, 60];
  const ticksB = [0, 0.25, 0.5, 0.75, 1.0, 1.25, 1.5];
  const ticksX = [2, 3, 4, 5];
  const ticksCX = [0.5, 1.0, 1.5, 2.0, 2.5, 3.0, 3.5];
  const ticksCY = [0, 0.5, 1.0, 1.5];

  const small = (x: any, y: any, l: number, r: number, t: number, b: number, yt: number[], yfmt: any, s: any, sl: any, rp: any, rl: any, init: any, title: string) => (
    <g>
      <text x={(l + r) / 2} y={1768} textAnchor="middle" fontSize={14.5}>{title}</text>
      <g stroke="#e2e2e2" strokeDasharray="2,2">
        {ticksX.map(v => <line key={'v' + v} x1={x(v)} x2={x(v)} y1={t} y2={b} />)}
        {yt.map(v => <line key={'h' + v} x1={l} x2={r} y1={y(v)} y2={y(v)} />)}
      </g>
      {errBars(s, x, y, '#dcdcdc', 2.5)}
      {errBars(rp, x, y, '#dcdcdc', 2.5)}
      <path d={pathOf(init, x, y)} fill="none" stroke="#b0b0b0" strokeWidth={1.5} strokeDasharray="2,2.5" />
      <path d={pathOf(sl, x, y, d3.curveMonotoneX)} fill="none" stroke="#a75a5a" strokeWidth={1.8} />
      <path d={pathOf(rl, x, y, d3.curveMonotoneX)} fill="none" stroke="#6b88ad" strokeWidth={1.8} />
      {dots(s, x, y, 4.5, '#b5595b')}
      {dots(rp, x, y, 4.5, '#7594bd')}
      <line x1={l} x2={l} y1={t} y2={b} stroke="#555" />
      <line x1={l} x2={r} y1={b} y2={b} stroke="#555" />
      {yt.map(v => (
        <g key={'ty' + v}>
          <line x1={l - 3} x2={l} y1={y(v)} y2={y(v)} stroke="#555" />
          <text x={l - 5.5} y={y(v) + 4.7} textAnchor="end" fontSize={13.5}>{yfmt(v)}</text>
        </g>
      ))}
      {ticksX.map(v => (
        <g key={'tx' + v}>
          <line x1={x(v)} x2={x(v)} y1={b} y2={b + 3} stroke="#555" />
          <text x={x(v)} y={1980.5} textAnchor="middle" fontSize={13.5}>{v}</text>
        </g>
      ))}
      <text x={(l + r) / 2} y={1996} textAnchor="middle" fontSize={14.5}>GFLOPs</text>
      <text x={r + 1} y={1994} textAnchor="end" fontSize={13.5}>1e10</text>
    </g>
  );

  return (
    <g fontFamily={SANS} fill="#1a1a1a">
      {small(xA, yA, 88.5, 268.6, 1772, 1965, ticksA, d3.format('d'), vlSft, vlSftLine, vlRl, vlRlLine, vlInit, 'V-IRL-VL')}
      {small(xB, yB, 305, 485.5, 1773, 1965, ticksB, d3.format('.2f'), vlOodSft, vlOodSftLine, vlOodRl, vlOodRlLine, vlOodInit, 'V-IRL-VL OOD')}
      <text transform="translate(59,1880) rotate(-90)" textAnchor="middle" fontSize={13.5}>Success Rate (%)</text>
      <rect x={145} y={1997} width={266.5} height={20} rx={3} fill="#fff" stroke="#dedede" />
      <line x1={148} x2={172} y1={2006.5} y2={2006.5} stroke="#b0b0b0" strokeWidth={1.5} strokeDasharray="2,2.5" />
      <text x={184} y={2011} fontSize={12.5}>Initialization</text>
      <line x1={274} x2={300} y1={2006.5} y2={2006.5} stroke="#a75a5a" strokeWidth={1.8} />
      <text x={307.5} y={2011} fontSize={12.5}>SFT</text>
      <line x1={355} x2={379} y1={2006.5} y2={2006.5} stroke="#6b88ad" strokeWidth={1.8} />
      <text x={389} y={2011} fontSize={12.5}>RL</text>

      {/* per-step accuracy panel */}
      <g stroke="#dedede" strokeDasharray="3,3">
        {ticksCX.map(v => <line key={'cv' + v} x1={xC(v)} x2={xC(v)} y1={1757.5} y2={1983.3} />)}
        {ticksCY.slice(1).map(v => <line key={'ch' + v} x1={637.5} x2={1034} y1={yC(v)} y2={yC(v)} />)}
      </g>
      <path d={pathOf(lr1Pts, xC, yC)} fill="none" stroke="#ecd3d3" strokeWidth={1} />
      <path d={pathOf(lr2Pts, xC, yC)} fill="none" stroke="#d3dce8" strokeWidth={1} />
      <path d={pathOf(lr1Line, xC, yC)} fill="none" stroke="#b06060" strokeWidth={1.7} />
      <path d={pathOf(lr2Line, xC, yC)} fill="none" stroke="#6d89a8" strokeWidth={1.7} />
      {dots(lr1Pts, xC, yC, 4.3, '#b45b5b')}
      {dots(lr2Pts, xC, yC, 4.3, '#7592b8')}
      <line x1={637.5} x2={637.5} y1={1757.5} y2={1983.3} stroke="#444" />
      <line x1={637.5} x2={1034} y1={1983.3} y2={1983.3} stroke="#444" />
      {ticksCY.map(v => (
        <g key={'cty' + v}>
          <line x1={634.5} x2={637.5} y1={yC(v)} y2={yC(v)} stroke="#444" />
          <text x={632} y={yC(v) + 4.5} textAnchor="end" fontSize={13}>{d3.format('.1f')(v)}</text>
        </g>
      ))}
      {ticksCX.map(v => (
        <g key={'ctx' + v}>
          <line x1={xC(v)} x2={xC(v)} y1={1983.3} y2={1986.3} stroke="#444" />
          <text x={xC(v)} y={1998} textAnchor="middle" fontSize={13}>{d3.format('.1f')(v)}</text>
        </g>
      ))}
      <text x={836} y={2015} textAnchor="middle" fontSize={14.5}>Training Computation (GFLOPs)</text>
      <text x={1024} y={2015} textAnchor="middle" fontSize={13.5}>1e9</text>
      <text transform="translate(609,1871) rotate(-90)" textAnchor="middle" fontSize={13.5}>Per-step Accuracy (%)</text>
      <rect x={956} y={1768} width={75} height={39} rx={3} fill="#fff" stroke="#cfcfcf" />
      <line x1={961} x2={992} y1={1776.5} y2={1776.5} stroke="#b06060" strokeWidth={1.7} />
      <text x={1002} y={1781} fontSize={12}>1e-7</text>
      <line x1={961} x2={992} y1={1794.5} y2={1794.5} stroke="#6d89a8" strokeWidth={1.7} />
      <text x={1002} y={1799} fontSize={12}>2e-7</text>
    </g>
  );
}

function Watermark() {
  return (
    <g opacity={0.62}>
      <circle cx={801} cy={1998} r={12.5} fill="#8d8d8d" />
      <circle cx={816} cy={2007} r={10.5} fill="#9a9a9a" stroke="#fff" strokeWidth={1.5} />
      <circle cx={797} cy={1995} r={1.6} fill="#fff" />
      <circle cx={805} cy={1995} r={1.6} fill="#fff" />
      <circle cx={812} cy={2005} r={1.3} fill="#fff" />
      <circle cx={819} cy={2005} r={1.3} fill="#fff" />
      <text x={833} y={2013} fontFamily={CJK} fontSize={31} fill="#8a8a8a">公众号 · 塔罗绘</text>
    </g>
  );
}

export default function App() {
  return (
    <svg width={1080} height={2045} viewBox="0 0 1080 2045" style={{ position: 'absolute', left: 0, top: 0, background: '#fff' }}>
      <rect x={0} y={0} width={1080} height={2045} fill="#fff" />
      <Fig7 />
      <Caption lines={cap7} x={24} y0={326} dy={27.3} fs={19.5} widths={[1009, 1009, 1009, 672]} />
      <Fig6 />
      <Caption lines={cap6} x={41} y0={692} dy={25.6} fs={19} widths={[998, 998, 998]} />
      <Fig8 />
      <Caption lines={cap8} x={43} y0={1097} dy={25.4} fs={19} widths={[996, 996, 996, 996, 124]} />
      <Fig9 />
      <Bottom />
      <Watermark />
    </svg>
  );
}
